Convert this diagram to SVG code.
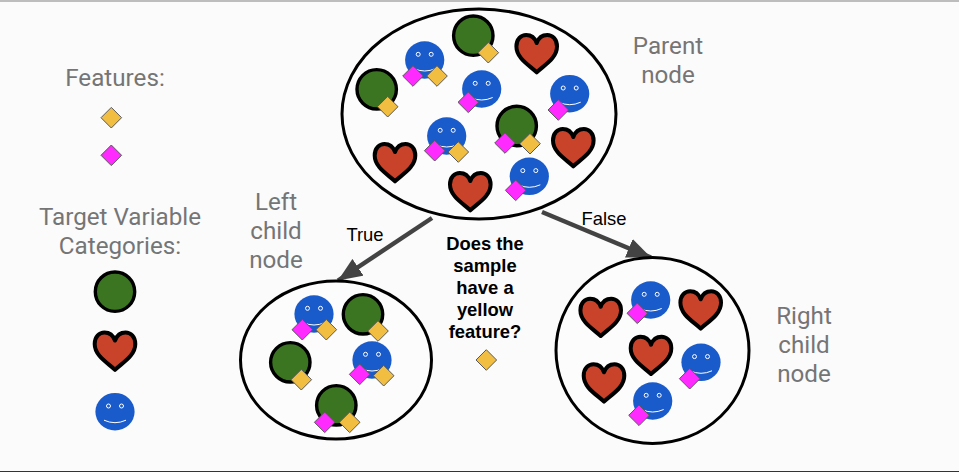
<svg xmlns="http://www.w3.org/2000/svg" xmlns:xlink="http://www.w3.org/1999/xlink" width="959" height="472" viewBox="0 0 959 472">
<style>
.bg{fill:#fbfbfc}
.node{fill:#fcfcfd;stroke:#000;stroke-width:3}
.lbl{font-family:Roboto,"Liberation Sans",sans-serif;font-size:24.2px;fill:#757575;text-anchor:middle}
.edge{font-family:"Liberation Sans",Arial,sans-serif;font-size:18.4px;fill:#000;text-anchor:middle}
.q{font-family:"Liberation Sans",Arial,sans-serif;font-size:18.4px;font-weight:bold;fill:#000;text-anchor:middle}
.conn{fill:none;stroke:#434343;stroke-width:4.500}
</style>
<defs>
<marker id="arrow" markerUnits="userSpaceOnUse" markerWidth="25" markerHeight="20" refX="24" refY="10" orient="auto" viewBox="0 0 25 20"><path d="M0,0L24,10L0,20Z" fill="#434343"/></marker>
<g id="y"><path d="M0,-10.300L10.300,0L0,10.300L-10.300,0Z" fill="#f1be42" stroke="#595959" stroke-width="1"/></g>
<g id="m"><path d="M0,-10.300L10.300,0L0,10.300L-10.300,0Z" fill="#ff2aff" stroke="#595959" stroke-width="1"/></g>
<g id="g"><circle r="19.700" fill="#3b7522" stroke="#000" stroke-width="3.400"/></g>
<g id="h"><path d="M0,39.300C-7,32.500-20.300,25.500-20.300,13.500C-20.300,6-15.500,2-10.500,2C-5.500,2-1.800,5 0,10C1.800,5 5.500,2 10.500,2C15.500,2 20.300,6 20.300,13.500C20.300,25.500 7,32.500 0,39.300Z" fill="#c9432b" stroke="#000" stroke-width="4" stroke-linejoin="round"/></g>
<g id="b"><ellipse rx="19.600" ry="18.800" fill="#1a5bcb"/><circle cx="-6.500" cy="-5.700" r="2" fill="none" stroke="#fff" stroke-width="1"/><circle cx="6.500" cy="-5.700" r="2" fill="none" stroke="#fff" stroke-width="1"/><path d="M-11,8.500Q0,13.500 11,8.500" fill="none" stroke="#fff" stroke-width="1"/></g>
</defs>
<rect class="bg" width="959" height="472"/>
<rect width="959" height="2" fill="#bdbdbd"/>
<rect y="471" width="959" height="1" fill="#333"/>
<g id="connectors">
<path class="conn" marker-end="url(#arrow)" d="M432,218L338,280.500"/>
<path class="conn" marker-end="url(#arrow)" d="M542,212L651,257.500"/>
</g>
<g id="parent-node">
<ellipse class="node" cx="479" cy="114" rx="137" ry="105"/>
<use xlink:href="#g" x="376.700" y="89.300"/><use xlink:href="#y" x="387.700" y="106.700"/>
<use xlink:href="#g" x="473.300" y="35.700"/><use xlink:href="#y" x="488.300" y="52.700"/>
<use xlink:href="#h" x="536.700" y="33"/>
<use xlink:href="#b" x="424.700" y="60"/><use xlink:href="#m" x="413" y="76"/><use xlink:href="#y" x="437" y="76"/>
<use xlink:href="#b" x="481.700" y="89"/><use xlink:href="#m" x="468.300" y="102.300"/>
<use xlink:href="#b" x="569.700" y="93.700"/><use xlink:href="#m" x="558.300" y="110"/>
<use xlink:href="#g" x="516.700" y="126"/><use xlink:href="#m" x="505" y="143"/><use xlink:href="#y" x="530" y="143.700"/>
<use xlink:href="#b" x="446.700" y="136"/><use xlink:href="#m" x="434.700" y="150.700"/><use xlink:href="#y" x="458.300" y="152"/>
<use xlink:href="#h" x="395" y="142"/>
<use xlink:href="#h" x="573.300" y="127"/>
<use xlink:href="#h" x="470.300" y="171"/>
<use xlink:href="#b" x="529.300" y="176.300"/><use xlink:href="#m" x="515.700" y="190.300"/>
</g>
<g id="left-child-node">
<ellipse class="node" cx="336" cy="360" rx="95.500" ry="79"/>
<use xlink:href="#b" x="314" y="314"/><use xlink:href="#m" x="302.300" y="329.700"/><use xlink:href="#y" x="326.300" y="329.700"/>
<use xlink:href="#g" x="363" y="314.300"/><use xlink:href="#y" x="378" y="331"/>
<use xlink:href="#g" x="290.300" y="362.300"/><use xlink:href="#y" x="301.300" y="379.700"/>
<use xlink:href="#b" x="372" y="360"/><use xlink:href="#m" x="359.700" y="374.300"/><use xlink:href="#y" x="383.700" y="375.700"/>
<use xlink:href="#g" x="336.300" y="405.300"/><use xlink:href="#m" x="324.700" y="422.300"/><use xlink:href="#y" x="349.700" y="422.300"/>
</g>
<g id="right-child-node">
<ellipse class="node" cx="652.500" cy="350.500" rx="96.500" ry="93"/>
<use xlink:href="#h" x="600.700" y="296.700"/>
<use xlink:href="#b" x="650.700" y="300"/><use xlink:href="#m" x="637.300" y="313.300"/>
<use xlink:href="#h" x="700.700" y="289.300"/>
<use xlink:href="#h" x="651" y="334.700"/>
<use xlink:href="#b" x="701" y="362.300"/><use xlink:href="#m" x="689.700" y="378.700"/>
<use xlink:href="#h" x="604" y="362.300"/>
<use xlink:href="#b" x="652.700" y="401"/><use xlink:href="#m" x="639" y="415.300"/>
</g>
<g id="legend-features">
<text class="lbl" x="115" y="86">Features:</text>
<use xlink:href="#y" x="111.300" y="117.700"/>
<use xlink:href="#m" x="111.300" y="155.300"/>
</g>
<g id="legend-categories">
<text class="lbl" x="120" y="225">Target Variable</text>
<text class="lbl" x="120" y="254">Categories:</text>
<use xlink:href="#g" x="115" y="291.700"/>
<use xlink:href="#h" x="115" y="330.500"/>
<use xlink:href="#b" x="115" y="411.700"/>
</g>
<g id="labels">
<text class="lbl" x="668" y="54">Parent</text>
<text class="lbl" x="668" y="83">node</text>
<text class="lbl" x="276" y="210">Left</text>
<text class="lbl" x="276" y="239">child</text>
<text class="lbl" x="276" y="268">node</text>
<text class="lbl" x="804" y="324">Right</text>
<text class="lbl" x="804" y="353">child</text>
<text class="lbl" x="804" y="382">node</text>
<text class="edge" x="365" y="241">True</text>
<text class="edge" x="604" y="225">False</text>
</g>
<g id="question">
<text class="q" x="485" y="250">Does the</text>
<text class="q" x="485" y="272">sample</text>
<text class="q" x="485" y="294">have a</text>
<text class="q" x="485" y="316">yellow</text>
<text class="q" x="485" y="338">feature?</text>
<use xlink:href="#y" x="486.300" y="360"/>
</g>
</svg>
